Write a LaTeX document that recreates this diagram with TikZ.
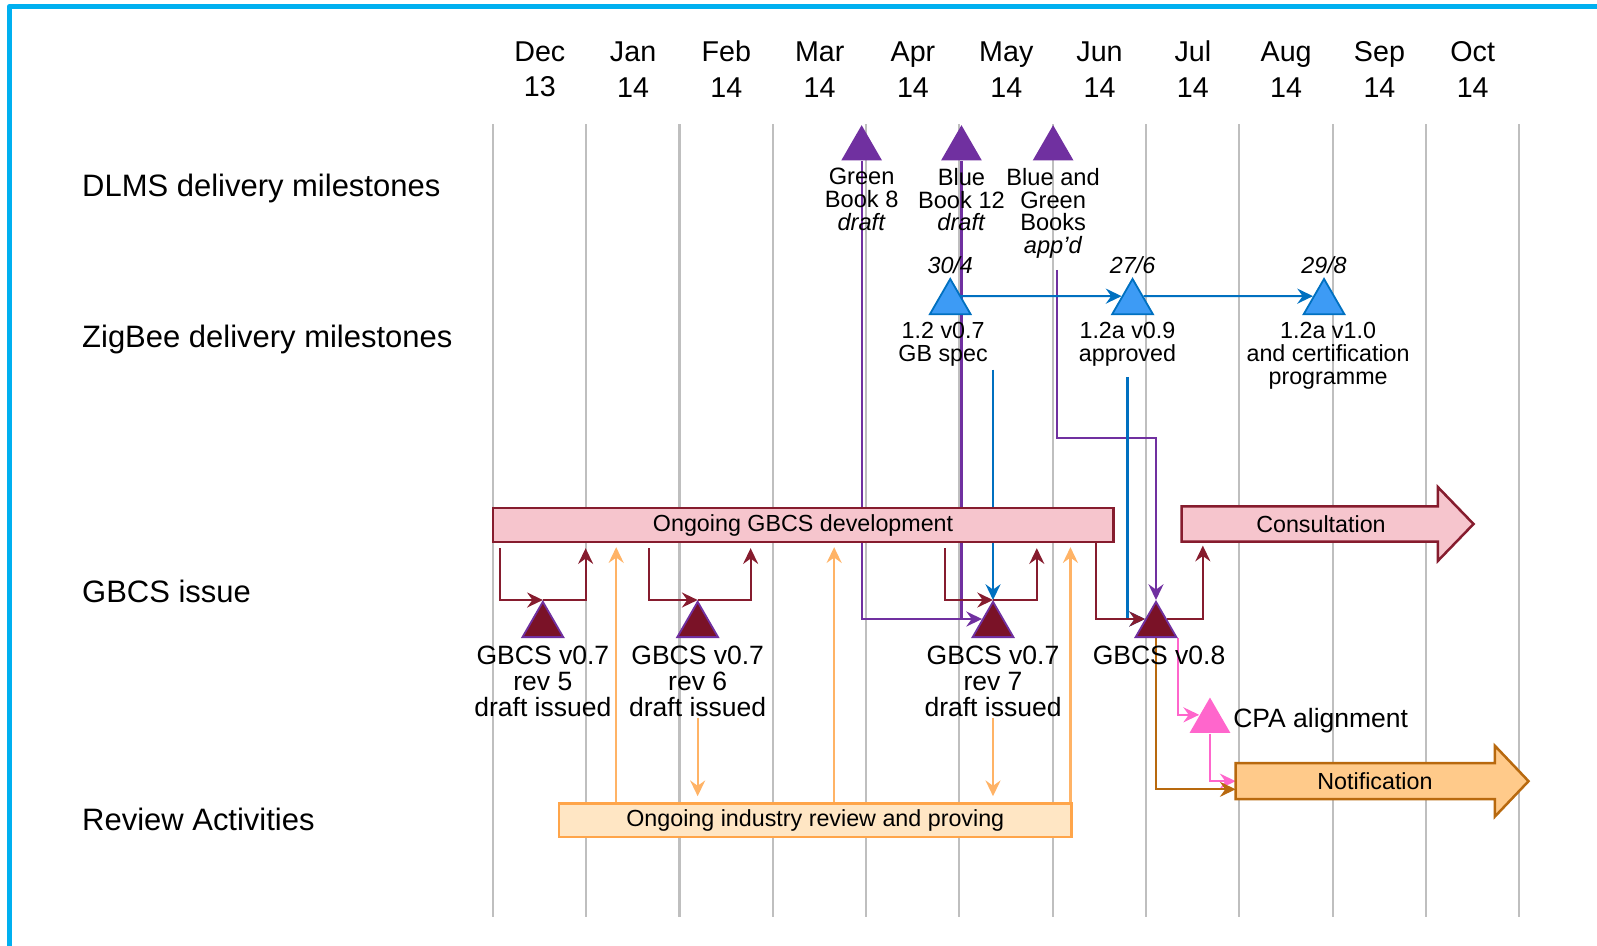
\documentclass[tikz,border=0pt]{standalone}
\usepackage{fontspec}
\setmainfont{Liberation Sans}
\usepackage{xcolor}
\usepackage{tikz}
\usetikzlibrary{arrows.meta,calc,positioning,shapes.geometric}

\definecolor{frameblue}{HTML}{00B0F0}
\definecolor{gridgrey}{HTML}{BFBFBF}
\definecolor{dlmspurple}{HTML}{7030A0}
\definecolor{zbblue}{HTML}{0070C0}
\definecolor{zbfill}{HTML}{3D9BF5}
\definecolor{gbred}{HTML}{861C2E}
\definecolor{gbtri}{HTML}{7A1227}
\definecolor{gbpink}{HTML}{F6C5CD}
\definecolor{cpapink}{HTML}{FF66CC}
\definecolor{notebrown}{HTML}{B8690E}
\definecolor{notefill}{HTML}{FFCA8A}
\definecolor{revorange}{HTML}{FFA54A}
\definecolor{revline}{HTML}{FFB366}
\definecolor{revfill}{HTML}{FFE6C4}

\pgfdeclarelayer{grid}
\pgfdeclarelayer{links}
\pgfsetlayers{grid,links,main}

\tikzset{
  gridln/.style={gridgrey, line width=0.6pt},
  month/.style={align=center, inner sep=0pt, font=\fontsize{8}{10}\selectfont},
  rowlbl/.style={anchor=west, inner sep=0pt, font=\fontsize{8.65}{10}\selectfont},
  tri/.style={regular polygon, regular polygon sides=3, minimum size=0.462cm, inner sep=0pt},
  dlms/.style={tri, fill=dlmspurple},
  zb/.style={tri, fill=zbfill, draw=zbblue, line width=0.5pt},
  gbcs/.style={tri, fill=gbtri, draw=dlmspurple, line width=0.5pt},
  cpatri/.style={tri, fill=cpapink},
  mlbl/.style={align=center, inner sep=0pt, font=\fontsize{6.6}{6.4}\selectfont},
  zlbl/.style={align=center, inner sep=0pt, font=\fontsize{6.5}{6.5}\selectfont},
  dlbl/.style={inner sep=0pt, font=\fontsize{6.5}{7}\selectfont\itshape},
  glbl/.style={align=center, inner sep=0pt, font=\fontsize{7.4}{7.3}\selectfont},
  bartxt/.style={inner sep=0pt, font=\fontsize{6.5}{7}\selectfont},
  devbar/.style={bartxt, rectangle, fill=gbpink, draw=gbred, line width=0.7pt,
    minimum height=0.33cm},
  revbar/.style={bartxt, rectangle, fill=revfill, draw=revorange, line width=0.7pt,
    minimum height=0.33cm},
  purp/.style={dlmspurple, line width=0.6pt},
  blu/.style={zbblue, line width=0.6pt},
  dred/.style={gbred, line width=0.6pt},
  pnk/.style={cpapink, line width=0.6pt},
  brn/.style={notebrown, line width=0.6pt},
  orng/.style={revline, line width=0.6pt}
}

\begin{document}
\begin{tikzpicture}[x=0.01cm, y=-0.01cm,
    >={Stealth[length=4.4pt,width=4.2pt,inset=1.5pt]}]
  \useasboundingbox (0,0) rectangle (1568,928);
  % frame
  \draw[frameblue, line width=1.45pt, line join=round] (9,940) -- (9,6.5) -- (1580,6.5);

  % month grid
  \begin{pgfonlayer}{grid}
    \foreach \i in {0,...,11}
      \draw[gridln] ({484+91.6*\i},122) -- ({484+91.6*\i},900);
  \end{pgfonlayer}
  \foreach \m/\yr [count=\i from 0] in {Dec/13,Jan/14,Feb/14,Mar/14,Apr/14,May/14,Jun/14,Jul/14,Aug/14,Sep/14,Oct/14}
    \node[month] (m\i) at ({530+91.6*\i},68) {\m\\\yr};

  % rows
  \node[rowlbl] (rdlms) at (80,185) {DLMS delivery milestones};
  \node[rowlbl] (rzb) at (80,333) {ZigBee delivery milestones};
  \node[rowlbl] (rgbcs) at (80,581) {GBCS issue};
  \node[rowlbl] (rrev) at (80,805) {Review Activities};

  % DLMS milestones
  \node[dlms] (dl1) at (846,146) {};
  \node[dlms] (dl2) at (944,146) {};
  \node[dlms] (dl3) at (1034,146) {};
  \node[mlbl, below=0.06cm of dl1] (dl1lbl) {Green\\Book 8\\\textit{draft}};
  \node[mlbl, below=0.06cm of dl2] (dl2lbl) {Blue\\Book 12\\\textit{draft}};
  \node[mlbl, below=0.06cm of dl3] (dl3lbl) {Blue and\\Green\\Books\\\textit{app’d}};

  % ZigBee milestones
  \node[zb] (zb1) at (933,297) {};
  \node[zb] (zb2) at (1112,297) {};
  \node[zb] (zb3) at (1300,297) {};
  \node[dlbl, above=0.03cm of zb1] (zb1d) {30/4};
  \node[dlbl, above=0.03cm of zb2] (zb2d) {27/6};
  \node[dlbl, above=0.03cm of zb3] (zb3d) {29/8};
  \node[zlbl, below=0.06cm of zb1, xshift=-0.07cm] (zb1lbl) {1.2 v0.7\\GB spec};
  \node[zlbl, below=0.06cm of zb2, xshift=-0.05cm] (zb2lbl) {1.2a v0.9\\approved};
  \node[zlbl, below=0.06cm of zb3, xshift=0.04cm] (zb3lbl) {1.2a v1.0\\and certification\\programme};

  % GBCS issue
  \node[devbar, minimum width=6.09cm] (dev) at (788.5,515.5) {Ongoing GBCS development};
  \node[minimum width=2.5cm, minimum height=0.33cm, inner sep=0pt] (cons) at (1286,514.5) {};
  \filldraw[fill=gbpink, draw=gbred, line width=0.7pt] (cons.north west) -- (cons.north east)
    -- ($(cons.north east)+(0,-19)$) -- ($(cons.east)+(35,0)$) -- ($(cons.south east)+(0,19)$)
    -- (cons.south east) -- (cons.south west) -- cycle;
  \node[bartxt] (constxt) at ($(cons)+(11,0)$) {Consultation};

  \node[gbcs] (gb5) at (533,614) {};
  \node[gbcs] (gb6) at (685,614) {};
  \node[gbcs] (gb7) at (975,614) {};
  \node[gbcs] (gb8) at (1135,614) {};
  \node[glbl, below=0.07cm of gb5] (gb5lbl) {GBCS v0.7\\rev 5\\draft issued};
  \node[glbl, below=0.07cm of gb6] (gb6lbl) {GBCS v0.7\\rev 6\\draft issued};
  \node[glbl, below=0.07cm of gb7] (gb7lbl) {GBCS v0.7\\rev 7\\draft issued};
  \node[glbl, below=0.07cm of gb8, xshift=0.03cm] (gb8lbl) {GBCS v0.8};

  \node[cpatri] (cpa) at (1188,708) {};
  \node[glbl, right=0.08cm of cpa] (cpalbl) {CPA alignment};

  \node[minimum width=2.53cm, minimum height=0.34cm, inner sep=0pt] (notif) at (1340.5,767) {};
  \filldraw[fill=notefill, draw=notebrown, line width=0.7pt] (notif.north west) -- (notif.north east)
    -- ($(notif.north east)+(0,-17)$) -- ($(notif.east)+(33,0)$) -- ($(notif.south east)+(0,17)$)
    -- (notif.south east) -- (notif.south west) -- cycle;
  \node[bartxt] (notiftxt) at ($(notif)+(9.5,0)$) {Notification};

  % review activities
  \node[revbar, minimum width=5.03cm] (rev) at (800.5,805.5) {Ongoing industry review and proving};

  % connectors
  \begin{pgfonlayer}{links}
    \draw[purp,->] (dl1) |- (gb7.side 1);
    \draw[purp] (dl2) -- (dl2 |- gb7.side 1);
    \coordinate (dl3out) at (1038,265);
    \draw[purp,->] (dl3out) -- ++(0,165) -| (gb8.corner 1);

    \draw[blu,->] (zb1.side 3) -- (zb2.side 1);
    \draw[blu,->] (zb2.side 3) -- (zb3.side 1);
    \coordinate (zb1out) at (975,363);
    \coordinate (zb2out) at (1107,370);
    \draw[blu,->] (zb1out) -- (gb7.corner 1);
    \draw[blu,->] (zb2out) |- (gb8.side 1);

    \foreach \n/\a/\b in {gb5/491/575, gb6/637/737, gb7/928/1018} {
      \draw[dred,->] ($(dev.south -| \a,0)+(0,5)$) |- (\n.corner 1);
      \draw[dred,->] (\n.corner 1) -| ($(dev.south -| \b,0)+(0,5)$);
    }
    \draw[dred,->] (dev.south -| 1076,0) |- (gb8.side 1);
    \draw[dred,->] (gb8.side 3) -| ($(cons.south -| 1181,0)+(0,4)$);

    \draw[pnk,->] (gb8.corner 3) |- (cpa.side 1);
    \draw[pnk,->] (cpa.side 2) |- (notif.west);
    \draw[brn,->] (gb8.side 2) |- ($(notif.west)+(0,8)$);

    \foreach \x in {605,819,1051}
      \draw[orng,->] (rev.north -| \x,0) -- ($(dev.south -| \x,0)+(0,4)$);
    \draw[orng,->] (gb6lbl.south) -- ($(rev.north -| gb6lbl.south)+(0,-6)$);
    \draw[orng,->] (gb7lbl.south) -- ($(rev.north -| gb7lbl.south)+(0,-6)$);
  \end{pgfonlayer}
\end{tikzpicture}
\end{document}
